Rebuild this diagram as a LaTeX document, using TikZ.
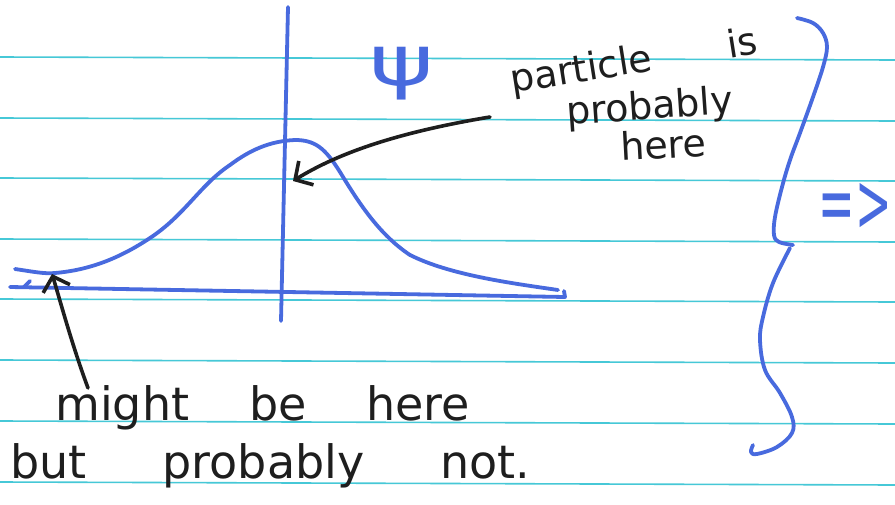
\documentclass[tikz,border=0pt]{standalone}
\usepackage{fontspec}
\setmainfont{DejaVu Sans}
\usepackage{graphicx}
\usepackage{xcolor}
\usetikzlibrary{arrows.meta}
\definecolor{inkblue}{RGB}{72,106,222}
\definecolor{inkblack}{RGB}{30,30,30}
\definecolor{ruleline}{RGB}{70,200,215}

\begin{document}
\begin{tikzpicture}[x=1pt, y=-1pt, line cap=round, line join=round,
    blueink/.style={draw=inkblue, line width=3.8pt},
    blackink/.style={draw=inkblack, line width=3.6pt},
    paperrule/.style={draw=ruleline, line width=1.6pt},
    scrawl/.style={inner sep=0pt, text=inkblack},
    handtip/.style={-{Straight Barb[length=13pt, width=28pt]}}]
        \def\bigsize{\fontsize{46}{50}\selectfont}
        \def\midsize{\fontsize{38}{42}\selectfont}

        \useasboundingbox (0,0) rectangle (895,504);
        \fill[white] (0,0) rectangle (895,504);

        \foreach \y in {57,118,178,239,299,360,421,482}
            \draw[paperrule] (0,\y) -- (895,\y+3);

        \draw[blueink] (288,7) -- (281,321);
        \draw[blueink] (10,287) -- (565,297) -- (564,291);
        \draw[blueink] (24,287) -- (30,281);

        \draw[blueink] (15,269) .. controls (35,272) and (45,274) .. (55,273)
            .. controls (90,270) and (120,258) .. (150,238)
            .. controls (185,215) and (200,185) .. (230,165)
            .. controls (250,150) and (270,141) .. (295,140)
            .. controls (315,140) and (325,148) .. (340,172)
            .. controls (360,205) and (380,235) .. (410,255)
            .. controls (450,275) and (510,283) .. (558,290);

        \draw[blueink] plot[smooth, tension=0.6] coordinates {(797,18) (813,23) (823,33) (827,47) (823,67) (813,97) (800,133) (790,160) (782,187) (775,217) (774,235) (779,242) (793,245)};
        \draw[blueink] plot[smooth, tension=0.6] coordinates {(790,248) (773,283) (763,317) (760,340) (765,370) (780,393) (792,417) (792,433) (777,447) (757,454) (751,452) (753,445)};

        \node[scrawl, text=inkblue, font=\fontsize{70}{76}\selectfont] (psi) at (402,74) {\scalebox{1.4}[1]{ψ}};
        \node[scrawl, text=inkblue, font=\bigsize] (implies) at (855,207) {\scalebox{0.95}[1.8]{=>}};

        \node[scrawl, font=\midsize, anchor=base west, rotate=9] (particle) at (512,93) {\makebox[250pt][l]{particle\hfill is}};
        \node[scrawl, font=\midsize, anchor=base west, rotate=4] (probably) at (567,125) {probably};
        \node[scrawl, font=\midsize, anchor=base west, rotate=3] (here) at (621,161) {here};

        \node[scrawl, font=\bigsize, anchor=base west] (might) at (55,420) {\makebox[415pt][l]{might\hfill be\hfill here}};
        \node[scrawl, font=\bigsize, anchor=base west] (butnot) at (10,478) {\makebox[520pt][l]{but\hfill probably\hfill not.}};

        \coordinate (peak) at (293,181);
        \coordinate (peaktail) at (490,117);
        \coordinate (tail) at (88,388);
        \coordinate (tail end) at (52,274);

        \draw[blackink, handtip] (peaktail) .. controls (400,132) and (340,152) .. (peak);
        \draw[blackink, handtip] (tail) .. controls (72,345) and (60,300) .. (tail end);
\end{tikzpicture}
\end{document}
